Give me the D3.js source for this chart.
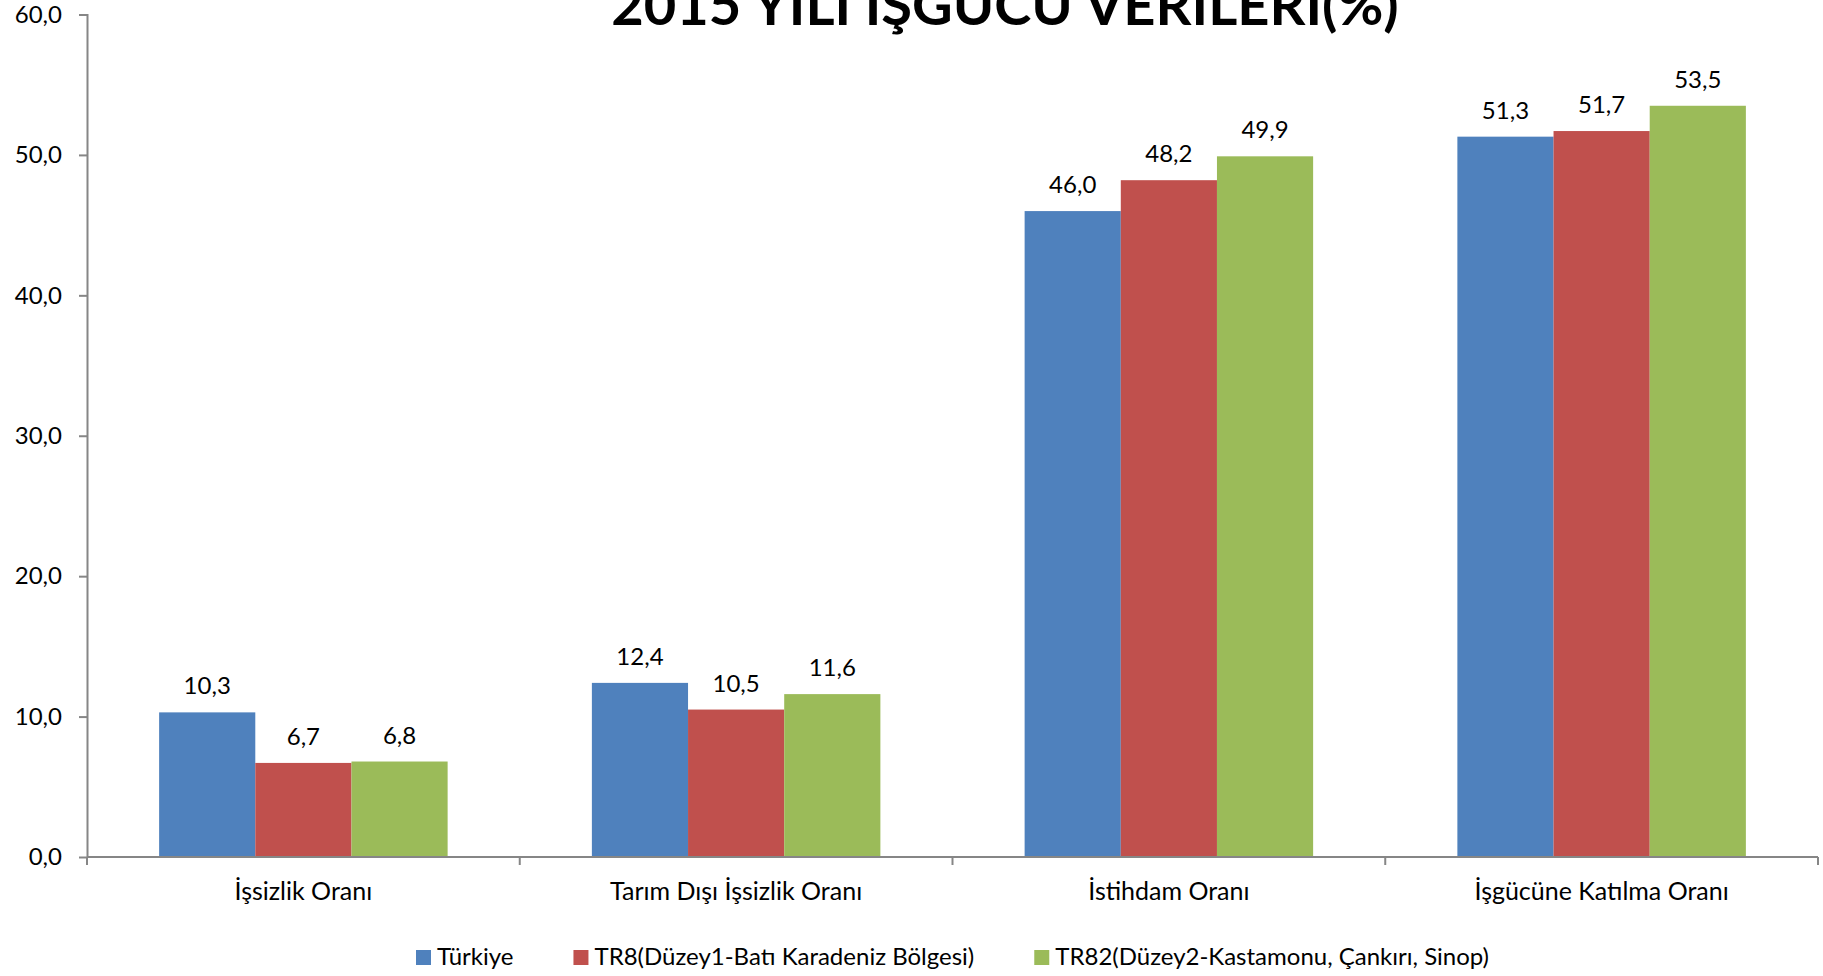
<!DOCTYPE html>
<html>
<head>
<meta charset="utf-8">
<script src="https://cdn.jsdelivr.net/npm/d3@7"></script>
<style>
  body { margin: 0; background: #fff; }
  text { font-family: Lato, "Open Sans", sans-serif; fill: #000; }
</style>
</head>
<body>
<div id="chart"></div>
<script>
var title = "2015 YILI İŞGÜCÜ VERİLERİ(%)";
var categories = ["İşsizlik Oranı", "Tarım Dışı İşsizlik Oranı", "İstihdam Oranı", "İşgücüne Katılma Oranı"];
var seriesNames = ["Türkiye", "TR8(Düzey1-Batı Karadeniz Bölgesi)", "TR82(Düzey2-Kastamonu, Çankırı, Sinop)"];
var turkiye = [10.3, 12.4, 46.0, 51.3];
var tr8 = [6.7, 10.5, 48.2, 51.7];
var tr82 = [6.8, 11.6, 49.9, 53.5];
var yTicks = [0, 10, 20, 30, 40, 50, 60];

var colors = ["#4F81BD", "#C0504D", "#9BBB59"];
var series = [turkiye, tr8, tr82];

var width = 1823, height = 976;
var margin = { top: 14.5, right: 5, bottom: 119, left: 87 };
var innerW = width - margin.left - margin.right,
    innerH = height - margin.top - margin.bottom;

var fmt = function (v) { return d3.format(".1f")(v).replace(".", ","); };

var svg = d3.select("#chart").append("svg")
    .attr("width", width)
    .attr("height", height);

var g = svg.append("g")
    .attr("transform", "translate(" + margin.left + "," + margin.top + ")");

var x0 = d3.scaleBand().domain(categories).range([0, innerW]).paddingInner(0).paddingOuter(0);
// gap width 150% of a bar: band = 3 bars + 1.5 bars
var barW = x0.bandwidth() / 4.5;
var x1 = d3.scaleBand().domain(d3.range(series.length))
    .range([barW * 0.75, x0.bandwidth() - barW * 0.75]);

var y = d3.scaleLinear().domain([0, 60]).range([innerH, 0]);

// bars
var groups = g.selectAll(".grp")
    .data(categories)
    .enter().append("g")
    .attr("class", "grp")
    .attr("transform", function (d) { return "translate(" + x0(d) + ",0)"; });

groups.selectAll("rect")
    .data(function (d, i) { return series.map(function (s, k) { return { k: k, v: s[i] }; }); })
    .enter().append("rect")
    .attr("x", function (d) { return x1(d.k); })
    .attr("width", x1.bandwidth())
    .attr("y", function (d) { return y(d.v); })
    .attr("height", function (d) { return innerH - y(d.v); })
    .style("fill", function (d) { return colors[d.k]; });

groups.selectAll(".val")
    .data(function (d, i) { return series.map(function (s, k) { return { k: k, v: s[i] }; }); })
    .enter().append("text")
    .attr("class", "val")
    .attr("x", function (d) { return x1(d.k) + x1.bandwidth() / 2; })
    .attr("y", function (d) { return y(d.v) - 18; })
    .attr("text-anchor", "middle")
    .style("font-size", "24px")
    .text(function (d) { return fmt(d.v); });

// y axis
var yAxis = g.append("g")
    .call(d3.axisLeft(y).tickValues(yTicks).tickFormat(fmt).tickSize(8).tickPadding(17));
yAxis.selectAll("text").style("font-size", "24px");
yAxis.selectAll("line, path").attr("stroke", "#868686").attr("stroke-width", 2);
yAxis.select(".domain").attr("d", "M-8,0.5H0.5V" + innerH);

// x axis
var xAxis = g.append("g").attr("transform", "translate(0," + innerH + ")");
xAxis.append("line")
    .attr("x1", 0).attr("x2", innerW)
    .attr("stroke", "#868686").attr("stroke-width", 2);
xAxis.selectAll(".tk")
    .data(categories.concat(["end"]))
    .enter().append("line")
    .attr("x1", function (d, i) { return i < categories.length ? x0(d) : innerW; })
    .attr("x2", function (d, i) { return i < categories.length ? x0(d) : innerW; })
    .attr("y1", 0).attr("y2", 8)
    .attr("stroke", "#868686").attr("stroke-width", 2);
xAxis.selectAll(".cat")
    .data(categories)
    .enter().append("text")
    .attr("x", function (d) { return x0(d) + x0.bandwidth() / 2; })
    .attr("y", 43)
    .attr("text-anchor", "middle")
    .style("font-size", "25px")
    .text(function (d) { return d; });

// title (partly above the top edge, as in the original)
svg.append("text")
    .attr("x", 1005)
    .attr("y", 25)
    .attr("text-anchor", "middle")
    .style("font-size", "56px")
    .style("font-weight", "bold")
    .text(title);

// legend, centred under the plot
var legend = svg.append("g");
var items = legend.selectAll(".item")
    .data(seriesNames)
    .enter().append("g")
    .attr("class", "item");
items.append("rect")
    .attr("width", 15).attr("height", 15)
    .attr("y", -15)
    .style("fill", function (d, i) { return colors[i]; });
items.append("text")
    .attr("x", 21)
    .style("font-size", "24px")
    .text(function (d) { return d; });

var xPos = 0;
items.each(function () {
    var w = this.getBBox().width;
    d3.select(this).attr("transform", "translate(" + xPos + ",0)");
    xPos += w + 60;
});
var legendW = xPos - 60;
legend.attr("transform", "translate(" + (margin.left + innerW / 2 - legendW / 2) + ",965)");
</script>
</body>
</html>
